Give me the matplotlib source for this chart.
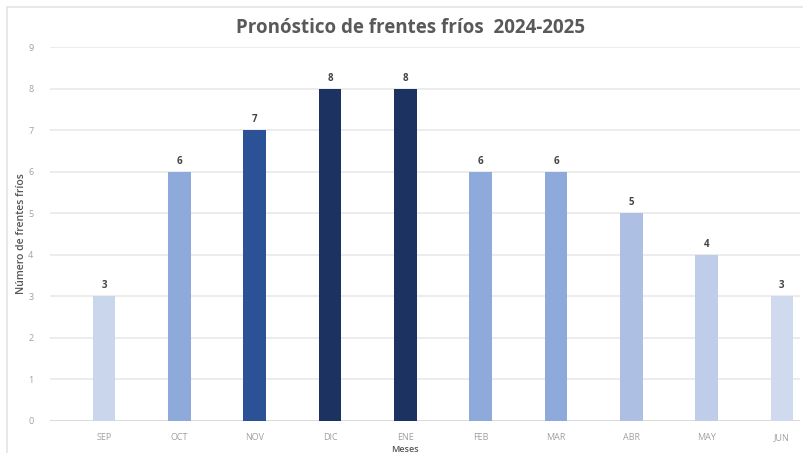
import matplotlib.pyplot as plt
from matplotlib.patches import Rectangle

meses = ['SEP', 'OCT', 'NOV', 'DIC', 'ENE', 'FEB', 'MAR', 'ABR', 'MAY', 'JUN']
frentes = [3, 6, 7, 8, 8, 6, 6, 5, 4, 3]
colores = ['#cad6ec', '#8eaadb', '#2b5197', '#1c3362', '#1c3362',
           '#8eaadb', '#8eaadb', '#adc0e4', '#bfcdea', '#cfdaef']

plt.rcParams['font.family'] = ['Open Sans', 'DejaVu Sans']

fig = plt.figure(figsize=(8.04, 4.53), dpi=100)
# marco claro alrededor de la imagen
fig.patches.append(Rectangle((7 / 804, -0.05), 1.1, 1.05 - 7 / 453,
                             transform=fig.transFigure, fill=False,
                             edgecolor='#e4e4e4', linewidth=1.2))

ax = fig.add_axes([50 / 804, 32 / 453, 750 / 804, 374 / 453])
x = list(range(len(meses)))
bars = ax.bar(x, frentes, width=0.3, color=colores, zorder=3)

for xi, v in zip(x, frentes):
    ax.text(xi, v + 0.12, str(v), ha='center', va='bottom', fontsize=7,
            fontweight='bold', color='#444444')

ax.set_ylim(0, 9)
ax.set_xlim(-0.717, 9.24)
ax.set_yticks(range(10))
ax.set_xticks(x)
ax.set_xticklabels(meses)
ax.tick_params(axis='both', length=0, labelsize=6.5, labelcolor='#a0a0a0')
ax.tick_params(axis='x', pad=9)
ax.tick_params(axis='y', pad=12)
ax.grid(axis='y', color='#ebebeb', linewidth=1.3, zorder=0)
for s in ax.spines.values():
    s.set_visible(False)
ax.axhline(0, color='#d8d8d8', linewidth=1.2, zorder=2)

ax.set_ylabel('Número de frentes fríos', fontsize=7.5, color='#555555',
              fontweight='semibold', labelpad=1)
ax.set_xlabel('Meses', fontsize=6.5, color='#555555', fontweight='semibold')
ax.xaxis.set_label_coords(0.473, -0.065)
fig.text(411 / 804, 1 - 28 / 453, 'Pronóstico de frentes fríos  2024-2025',
         ha='center', va='center', fontsize=13.5, fontweight='bold', color='#595959')

fig.savefig('out.png', dpi=100)
